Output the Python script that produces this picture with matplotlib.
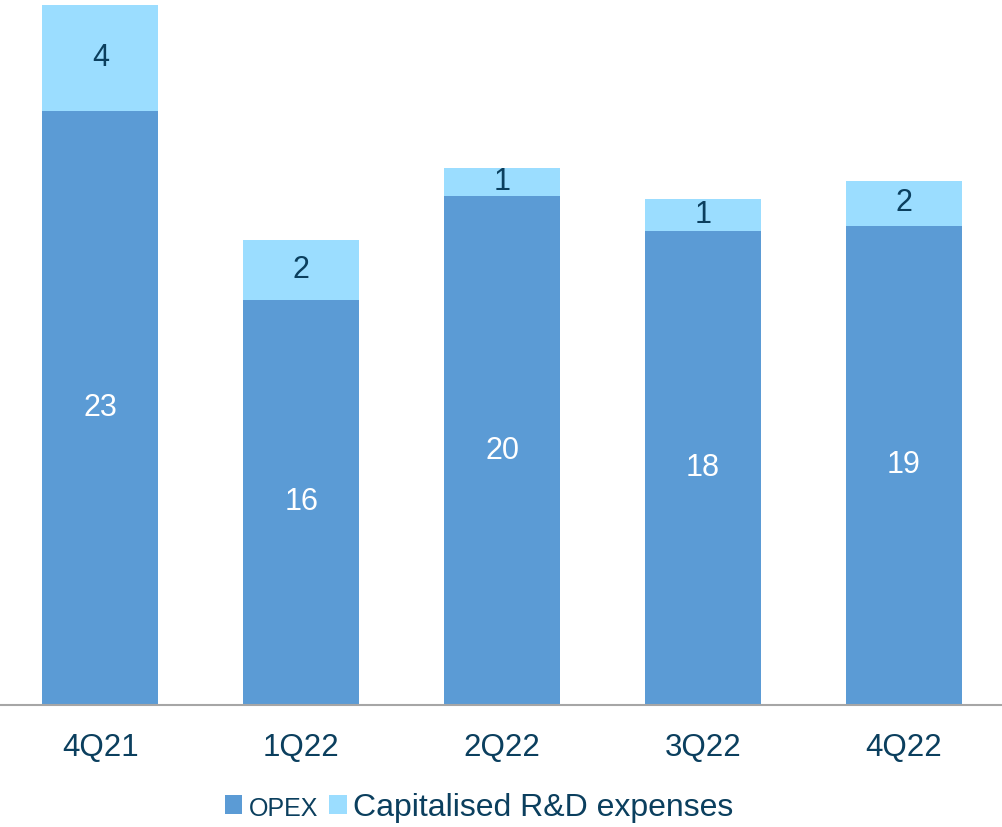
import matplotlib.pyplot as plt

plt.rcParams["font.family"] = ["Liberation Sans", "DejaVu Sans"]

QUARTERS = ["4Q21", "1Q22", "2Q22", "3Q22", "4Q22"]
OPEX = [23.0, 15.7, 19.7, 18.35, 18.55]
CAP_RD = [4.1, 2.3, 1.1, 1.25, 1.75]

OPEX_COLOR = "#5B9BD5"
CAP_COLOR = "#9BDDFF"
TEXT_COLOR = "#0B3F5E"


def main() -> None:
    fig = plt.figure(figsize=(10.02, 8.27), dpi=100)
    ax = fig.add_axes([0, 0.1475, 1, 0.8525])

    x = range(len(QUARTERS))
    bars_opex = ax.bar(x, OPEX, width=0.577, color=OPEX_COLOR, label="OPEX")
    bars_cap = ax.bar(x, CAP_RD, width=0.577, bottom=OPEX, color=CAP_COLOR,
                      label="Capitalised R&D expenses")

    ax.bar_label(bars_opex, labels=[f"{v:.0f}" for v in OPEX], label_type="center",
                 color="white", fontsize=22)
    ax.bar_label(bars_cap, labels=[f"{v:.0f}" for v in CAP_RD], label_type="center",
                 color=TEXT_COLOR, fontsize=22)

    ax.set_xlim(-0.5, 4.49)
    ax.set_ylim(0, 27.3)
    ax.set_xticks(list(x), QUARTERS)
    ax.tick_params(axis="x", length=0, pad=20, labelsize=22.5, labelcolor=TEXT_COLOR)
    ax.set_yticks([])
    for side in ("top", "right", "left"):
        ax.spines[side].set_visible(False)
    ax.spines["bottom"].set_color("#A6A6A6")
    ax.spines["bottom"].set_linewidth(1.5)

    leg = fig.legend(loc="center", bbox_to_anchor=(0.478, 0.023), ncol=2, frameon=False,
                     fontsize=23, handlelength=0.55, handleheight=0.55, handletextpad=0.2,
                     columnspacing=0.35, borderaxespad=0)
    for t in leg.get_texts():
        t.set_color(TEXT_COLOR)
    leg.get_texts()[0].set_fontsize(18)

    fig.savefig("out.png", dpi=100)


if __name__ == "__main__":
    main()
